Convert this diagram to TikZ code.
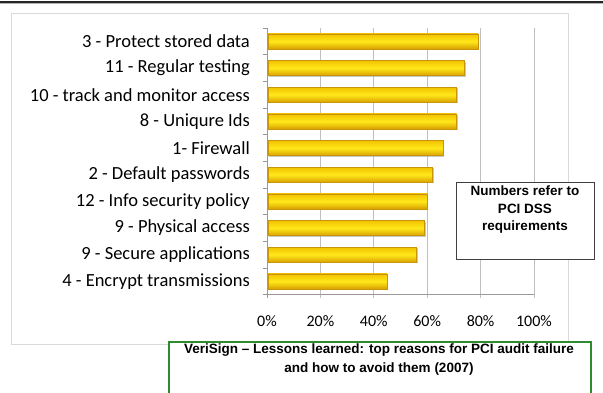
\documentclass[tikz,border=0pt]{standalone}
\usepackage{fontspec}
\setmainfont{Carlito}
\newfontfamily\arialfont{Liberation Sans}
\usetikzlibrary{shadows}
\definecolor{gridgray}{HTML}{BFBFBF}
\definecolor{framegray}{HTML}{D9D9D9}
\definecolor{barlight}{HTML}{FFE81A}
\definecolor{bartop}{HTML}{F2C200}
\definecolor{barbot}{HTML}{D9A200}
\definecolor{baredge}{HTML}{C8950A}
\definecolor{boxgreen}{HTML}{2E8B2E}
\begin{document}
\begin{tikzpicture}[x=1pt,y=-1pt,
  catlabel/.style={anchor=east,inner sep=0pt,font=\fontsize{18.5}{20}\selectfont},
  pctlabel/.style={anchor=center,inner sep=0pt,font=\fontsize{16}{18}\selectfont},
  barbox/.style={draw=baredge,line width=0.5pt,top color=bartop,bottom color=barbot,middle color=barlight,
    drop shadow={shadow xshift=1.2pt,shadow yshift=-1.2pt,fill=black!35,opacity=0.6}},
  grid/.style={draw=gridgray,line width=0.8pt},
  axisline/.style={draw=gray!80,line width=0.8pt}]
\useasboundingbox (0,0) rectangle (603,392);
\fill[white] (0,0) rectangle (603,392);
% top rule
\draw[black!85,line width=2pt] (0,1.5) -- (603,1.5);
\draw[black!30,line width=1pt] (0,3.2) -- (603,3.2);
% chart frame
\draw[framegray,line width=0.6pt] (11,13) rectangle (568,344);
% gridlines
\foreach \p in {20,40,60,80,100}{
  \draw[grid] ({267+2.67*\p},28) -- ({267+2.67*\p},298);
}
% axes
\draw[axisline] (267,28) -- (267,298);
\draw[axisline] (267,294.7) -- (534,294.7);
\foreach \i in {0,...,10}{
  \draw[axisline] (263,{28+26.67*\i}) -- (267,{28+26.67*\i});
}
% bars
\foreach \v/\lab [count=\i from 0] in {79/3 - Protect stored data,74/11 - Regular testing,71/10 - track and monitor access,71/8 - Uniqure Ids,66/1- Firewall,62/2 - Default passwords,60/12 - Info security policy,59/9 - Physical access,56/9 - Secure applications,45/4 - Encrypt transmissions}{
  \path[barbox] (268,{28+26.67*(\i+0.5)-7.5}) rectangle ({267+2.67*\v},{28+26.67*(\i+0.5)+7.5});
  \node[catlabel] (c\i) at (250,{28+26.67*(\i+0.5)}) {\lab};
}
% percentage labels
\foreach \p in {0,20,40,60,80,100}{
  \node[pctlabel] (p\p) at ({267+2.67*\p},321) {\p\%};
}
% note box
\node[draw=black!75,line width=0.8pt,fill=white,minimum width=138pt,minimum height=77pt,anchor=north west,inner sep=0pt] (note) at (456,182) {};
\node[align=center,font=\arialfont\bfseries\fontsize{13.5}{17.5}\selectfont,inner sep=0pt,anchor=north] (notetext) at (525,186) {Numbers refer to\\PCI DSS\\requirements};
% green box
\draw[boxgreen,line width=1.3pt,fill=white] (169,392.5) -- (169,342) -- (591,342) -- (591,392.5);
\node[align=center,font=\arialfont\bfseries\fontsize{13.5}{19}\selectfont,inner sep=0pt,anchor=north] (title) at (379,343.5) {VeriSign – Lessons learned: top reasons for PCI audit failure\\and how to avoid them (2007)};
\end{tikzpicture}
\end{document}
